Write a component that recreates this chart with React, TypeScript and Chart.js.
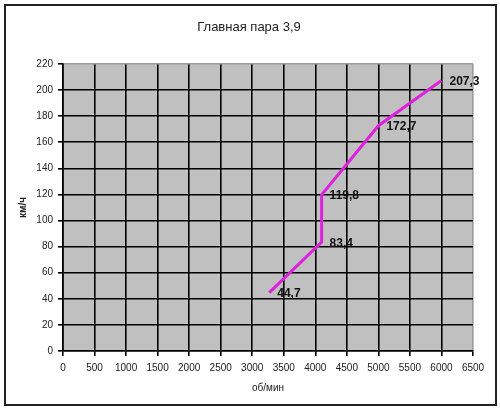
import React, { useEffect, useRef } from "react";
import { Chart, registerables } from "chart.js";

Chart.register(...registerables);

const TITLE = "Главная пара 3,9";
const X_TITLE = "об/мин";
const Y_TITLE = "км/ч";
const rpm = [3270, 4100, 4100, 5000, 6000];
const speed = [44.7, 83.4, 119.8, 172.7, 207.3];
const X_MAX = 6500;
const X_STEP = 500;
const Y_MAX = 220;
const Y_STEP = 20;

const FONT = "'Liberation Sans', Arial, sans-serif";

const decorPlugin = {
  id: "decor",
  beforeDraw(chart: any) {
    const { ctx, chartArea } = chart;
    ctx.save();
    ctx.fillStyle = "#ffffff";
    ctx.fillRect(0, 0, chart.width, chart.height);
    ctx.fillStyle = "#c0c0c0";
    ctx.fillRect(chartArea.left, chartArea.top, chartArea.right - chartArea.left, chartArea.bottom - chartArea.top);
    ctx.restore();
  },
  afterDraw(chart: any) {
    const { ctx, chartArea } = chart;
    ctx.save();
    // outer frame
    ctx.strokeStyle = "#222";
    ctx.lineWidth = 2;
    ctx.strokeRect(5, 5, 491, 400);
    // title
    ctx.fillStyle = "#222";
    ctx.textAlign = "center";
    ctx.textBaseline = "middle";
    ctx.font = `13px ${FONT}`;
    ctx.fillText(TITLE, 249, 27);
    // x title
    ctx.font = `10px ${FONT}`;
    ctx.fillText(X_TITLE, (chartArea.left + chartArea.right) / 2, 388);
    // y title
    ctx.save();
    ctx.translate(23, (chartArea.top + chartArea.bottom) / 2);
    ctx.rotate(-Math.PI / 2);
    ctx.font = `bold 10px ${FONT}`;
    ctx.fillText(Y_TITLE, 0, 0);
    ctx.restore();
    ctx.restore();
  },
  afterDatasetsDraw(chart: any) {
    const { ctx } = chart;
    const meta = chart.getDatasetMeta(0);
    ctx.save();
    ctx.fillStyle = "#111";
    ctx.font = `bold 12px ${FONT}`;
    ctx.textAlign = "left";
    ctx.textBaseline = "middle";
    meta.data.forEach((pt: any, i: number) => {
      const label = speed[i].toFixed(1).replace(".", ",");
      ctx.fillText(label, pt.x + 8, pt.y + 1);
    });
    ctx.restore();
  },
};

export default function App() {
  const ref = useRef<HTMLCanvasElement>(null);
  useEffect(() => {
    if (!ref.current) return;
    const chart = new Chart(ref.current, {
      type: "line",
      data: {
        datasets: [
          {
            data: rpm.map((x, i) => ({ x, y: speed[i] })),
            borderColor: "#dd22dd",
            borderWidth: 3,
            pointRadius: 0,
            fill: false,
            tension: 0,
          },
        ],
      },
      options: {
        animation: false,
        responsive: false,
        layout: { padding: { left: 0, top: 64, right: 27, bottom: 0 } },
        plugins: { legend: { display: false }, title: { display: false }, tooltip: { enabled: false } },
        scales: {
          x: {
            type: "linear",
            min: 0,
            max: X_MAX,
            afterFit: (s: any) => {
              s.height = 60;
            },
            ticks: {
              stepSize: X_STEP,
              color: "#222",
              font: { size: 10, family: FONT },
              padding: 6,
              maxRotation: 0,
              autoSkip: false,
              callback: (v: any) => String(v),
            },
            grid: {
              color: (c: any) => (c.tick && c.tick.value === X_MAX ? "#9a9a9a" : "#000"),
              tickColor: "#000",
              lineWidth: 1.6,
              tickLength: 5,
            },
            border: { display: true, color: "#000", width: 1.6 },
          },
          y: {
            min: 0,
            max: Y_MAX,
            afterFit: (s: any) => {
              s.width = 63;
            },
            ticks: {
              stepSize: Y_STEP,
              color: "#222",
              font: { size: 10, family: FONT },
              padding: 5,
              autoSkip: false,
            },
            grid: {
              color: (c: any) => (c.tick && c.tick.value === Y_MAX ? "#9a9a9a" : "#000"),
              tickColor: "#000",
              lineWidth: 1.6,
              tickLength: 5,
            },
            border: { display: true, color: "#000", width: 1.6 },
          },
        },
      },
      plugins: [decorPlugin],
    });
    return () => chart.destroy();
  }, []);
  return (
    <div style={{ position: "fixed", left: 0, top: 0, width: 500, height: 411, background: "#fff" }}>
      <canvas ref={ref} width={500} height={411} style={{ width: 500, height: 411, display: "block" }} />
    </div>
  );
}
